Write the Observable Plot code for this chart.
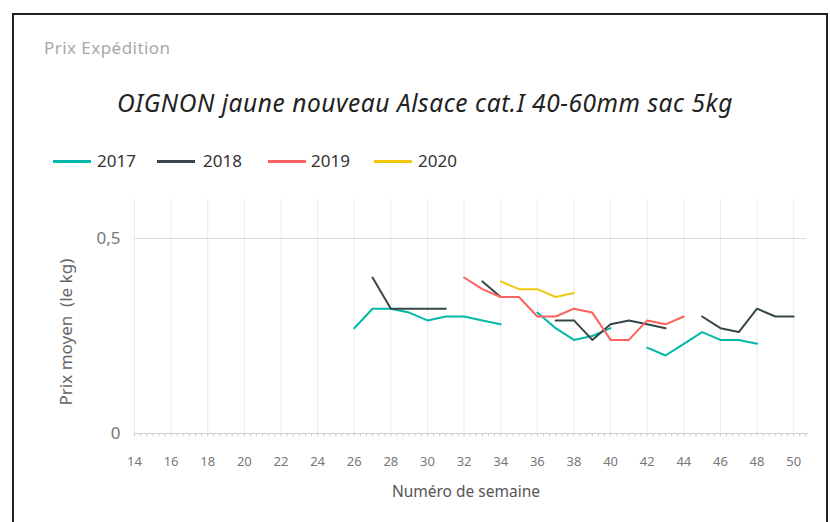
<!DOCTYPE html>
<html>
<head>
<meta charset="utf-8">
<script src="https://cdn.jsdelivr.net/npm/d3@7"></script>
<script src="https://cdn.jsdelivr.net/npm/@observablehq/plot@0.6"></script>
<style>
  html, body { margin: 0; padding: 0; background: #fff; width: 830px; height: 522px; overflow: hidden; }
  body { font-family: "Segoe UI", "Noto Sans", "Open Sans", sans-serif; position: relative; }
  #frame { position: absolute; left: 12px; top: 13px; width: 816px; height: 520px; border: 2px solid #222; border-bottom: none; box-sizing: border-box; }
  #kicker { position: absolute; left: 44px; top: 36px; font-size: 17px; color: #a8a8a8; letter-spacing: 0.45px; }
  #title { position: absolute; left: 0; width: 850px; text-align: center; top: 86px; font-size: 24.5px; font-style: italic; color: #222; letter-spacing: 0.55px; }
  #legend { position: absolute; left: 0; top: 0; font-size: 17px; color: #333; }
  .sw { position: absolute; width: 38px; height: 3px; top: 160px; }
  .lt { position: absolute; top: 149px; }
  #chart { position: absolute; left: 0; top: 190px; }
</style>
</head>
<body>
<div id="frame"></div>
<div id="kicker">Prix Expédition</div>
<div id="title">OIGNON jaune nouveau Alsace cat.I 40-60mm sac 5kg</div>
<div id="legend"></div>
<div id="chart"></div>
<script>
const years = ["2017", "2018", "2019", "2020"];
const colors = ["#01B8AA", "#374649", "#FD625E", "#F2C80F"];

const weeks2017 = [26,27,28,29,30,31,32,33,34,35,36,37,38,39,40,41,42,43,44,45,46,47,48];
const prix2017  = [0.27,0.32,0.32,0.31,0.29,0.30,0.30,0.29,0.28,null,0.31,0.27,0.24,0.25,0.27,null,0.22,0.20,0.23,0.26,0.24,0.24,0.23];

const weeks2018 = [27,28,29,30,31,32,33,34,35,36,37,38,39,40,41,42,43,44,45,46,47,48,49,50];
const prix2018  = [0.40,0.32,0.32,0.32,0.32,null,0.39,0.35,null,null,0.29,0.29,0.24,0.28,0.29,0.28,0.27,null,0.30,0.27,0.26,0.32,0.30,0.30];

const weeks2019 = [32,33,34,35,36,37,38,39,40,41,42,43,44];
const prix2019  = [0.40,0.37,0.35,0.35,0.30,0.30,0.32,0.31,0.24,0.24,0.29,0.28,0.30];

const weeks2020 = [34,35,36,37,38];
const prix2020  = [0.39,0.37,0.37,0.35,0.36];

const xTicks = [14,16,18,20,22,24,26,28,30,32,34,36,38,40,42,44,46,48,50];
const yTicks = [0, 0.5];
const minorTicks = d3.range(14, 50.8, 1/3);

const series = [
  {year: "2017", weeks: weeks2017, prix: prix2017},
  {year: "2018", weeks: weeks2018, prix: prix2018},
  {year: "2019", weeks: weeks2019, prix: prix2019},
  {year: "2020", weeks: weeks2020, prix: prix2020}
];
const data = series.flatMap(s => s.weeks.map((w, i) => ({year: s.year, semaine: w, prix: s.prix[i]})));

// legend
const legend = document.getElementById("legend");
const swLeft = [53, 157, 268, 374];
const txLeft = [97, 203, 311, 418];
years.forEach((y, i) => {
  const sw = document.createElement("div");
  sw.className = "sw";
  sw.style.left = swLeft[i] + "px";
  sw.style.background = colors[i];
  legend.appendChild(sw);
  const t = document.createElement("div");
  t.className = "lt";
  t.style.left = txLeft[i] + "px";
  t.textContent = y;
  legend.appendChild(t);
});

const chart = Plot.plot({
  width: 830,
  height: 332,
  marginLeft: 134,
  marginRight: 24,
  marginTop: 9,
  marginBottom: 89,
  style: {fontFamily: '"Segoe UI", "Noto Sans", sans-serif', background: "transparent"},
  x: {type: "linear", domain: [14, 50.7], axis: null},
  y: {type: "linear", domain: [0, 0.6], axis: null},
  color: {domain: years, range: colors},
  marks: [
    Plot.ruleX(xTicks, {x: d => d, stroke: "#ebebeb", strokeWidth: 1}),
    Plot.ruleY([0.5], {stroke: "#dcdcdc", strokeWidth: 1}),
    Plot.ruleX(minorTicks, {x: d => d, y1: 0, y2: -0.008, stroke: "#c8c8c8", strokeWidth: 1}),
    Plot.ruleY([0], {stroke: "#d0d0d0", strokeWidth: 1, x1: 14, x2: 50.8}),
    Plot.text(xTicks, {x: d => d, y: 0, text: d => String(d), dy: 28, fontSize: 13, fill: "#777"}),
    Plot.text(yTicks, {x: 14, y: d => d, text: d => String(d).replace(".", ","), dx: -14, textAnchor: "end", fontSize: 17, fill: "#777"}),
    Plot.line(data, {x: "semaine", y: "prix", z: "year", stroke: "year", strokeWidth: 2, curve: "linear"}),
    Plot.text(["Numéro de semaine"], {x: 32.1, y: 0, dy: 59, fontSize: 15.5, fill: "#555", text: d => d}),
    Plot.text(["Prix moyen  (le kg)"], {x: 14, y: 0.26, dx: -68, rotate: -90, fontSize: 17, fill: "#666", text: d => d})
  ]
});
document.getElementById("chart").appendChild(chart);
</script>
</body>
</html>
